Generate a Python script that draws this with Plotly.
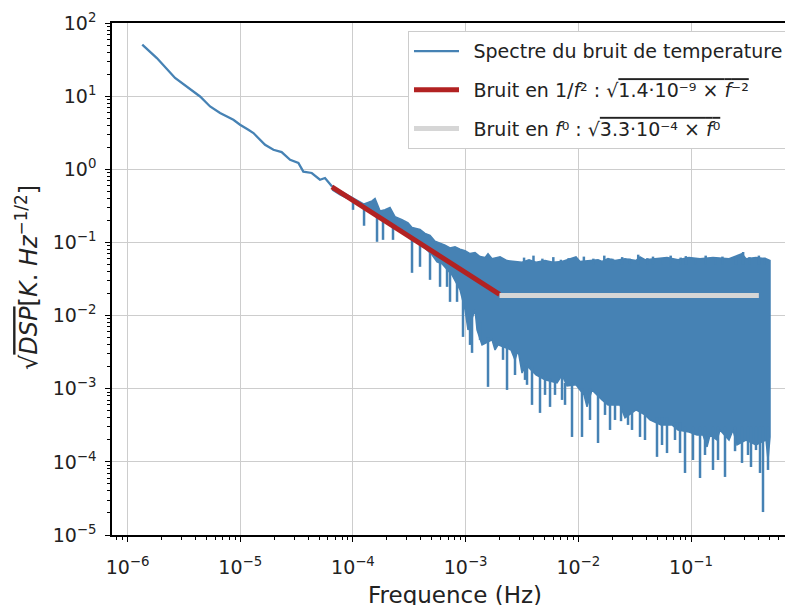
import plotly.graph_objects as go

# ---------------- data ----------------
# smooth low-frequency part of the spectrum (Hz, K/sqrt(Hz))
freq_low = [1.35e-6, 1.82e-6, 2.64e-6, 3.71e-6, 4.40e-6, 5.40e-6, 6.62e-6, 8.69e-6,
            9.96e-6, 1.18e-5, 1.31e-5, 1.66e-5, 1.97e-5, 2.33e-5, 2.77e-5, 3.28e-5,
            3.63e-5, 4.31e-5, 5.10e-5, 5.65e-5, 6.53e-5]
psd_low = [50.5, 33.2, 17.7, 12.2, 9.9, 7.23, 5.87, 4.75,
           4.06, 3.47, 3.13, 2.16, 1.85, 1.72, 1.35, 1.22,
           0.93, 0.89, 0.72, 0.76, 0.58]

# noisy part: upper envelope of the band
band_up_f = [6.53e-5, 7.69e-5, 8.51e-5, 9.42e-5, 1.11e-4, 1.255e-4, 1.478e-4, 1.571e-4,
             1.74e-4, 1.926e-4, 2.133e-4, 2.363e-4, 2.726e-4, 3.083e-4, 3.344e-4, 3.937e-4,
             4.36e-4, 4.831e-4, 5.35e-4, 5.93e-4, 6.566e-4, 7.27e-4, 8.05e-4, 8.92e-4,
             9.88e-4, 1.094e-3, 1.212e-3, 1.342e-3, 1.486e-3, 1.58e-3, 1.715e-3, 2.02e-3,
             2.33e-3, 2.743e-3, 3.166e-3, 3.651e-3, 4.213e-3, 5.064e-3, 5.965e-3, 7.167e-3,
             9.54e-3, 1.035e-2, 1.194e-2, 1.496e-2, 1.623e-2, 1.835e-2, 2.116e-2, 2.596e-2,
             3.251e-2, 3.527e-2, 3.906e-2, 4.991e-2, 6.124e-2, 7.666e-2, 9.6e-2, 0.1202,
             0.1567, 0.2173, 0.2835, 0.3076, 0.3773, 0.4628, 0.5023]
band_up_v = [0.59, 0.51, 0.465, 0.435, 0.37, 0.335, 0.37, 0.40,
             0.27, 0.28, 0.30, 0.225, 0.205, 0.185, 0.16, 0.15,
             0.133, 0.125, 0.104, 0.098, 0.092, 0.084, 0.087, 0.081,
             0.077, 0.0705, 0.0725, 0.064, 0.062, 0.070, 0.060, 0.0635,
             0.0565, 0.055, 0.0535, 0.058, 0.0535, 0.0565, 0.0535, 0.055,
             0.0635, 0.055, 0.0565, 0.058, 0.055, 0.060, 0.0565, 0.060,
             0.0565, 0.0635, 0.058, 0.060, 0.062, 0.058, 0.062, 0.060,
             0.062, 0.060, 0.070, 0.060, 0.062, 0.060, 0.0565]

# noisy part: lower edge of the dense band
band_low_f = [6.53e-5, 7.69e-5, 9.42e-5, 1.065e-4, 1.18e-4, 1.36e-4, 1.478e-4, 1.74e-4,
              2.048e-4, 2.512e-4, 2.898e-4, 3.21e-4, 3.483e-4, 3.779e-4, 4.101e-4, 4.543e-4,
              5.03e-4, 5.573e-4, 6.17e-4, 7.57e-4, 8.92e-4, 9.88e-4, 1.05e-3, 1.212e-3,
              1.262e-3, 1.398e-3, 1.715e-3, 1.824e-3, 1.939e-3, 2.527e-3, 2.743e-3, 2.917e-3,
              3.166e-3, 3.435e-3, 4.213e-3, 5.064e-3, 5.965e-3, 6.47e-3, 7.167e-3, 7.94e-3,
              9.54e-3, 1.035e-2, 1.123e-2, 1.194e-2, 1.323e-2, 1.623e-2, 1.835e-2, 2.344e-2,
              2.596e-2, 3.251e-2, 3.906e-2, 4.326e-2, 5.417e-2, 6.783e-2, 7.666e-2, 9.6e-2,
              0.113, 0.1278, 0.1387, 0.1475, 0.1701, 0.1808, 0.2173, 0.2358,
              0.2559, 0.3076, 0.3773, 0.4628, 0.4821, 0.5023]
band_low_v = [0.524, 0.448, 0.383, 0.348, 0.317, 0.297, 0.279, 0.238,
              0.191, 0.169, 0.140, 0.127, 0.1085, 0.102, 0.0898, 0.0792,
              0.0677, 0.0543, 0.051, 0.036, 0.0225, 0.012, 0.00637, 0.012,
              0.00637, 0.00397, 0.00465, 0.00339, 0.00397, 0.00339, 0.00248, 0.00339,
              0.00164, 0.00212, 0.00154, 0.00132, 0.00124, 0.0012, 0.00154, 0.00109,
              0.00113, 0.000963, 0.000823, 0.000564, 0.000963, 0.000703, 0.000601, 0.000601,
              0.000399, 0.000513, 0.000438, 0.000374, 0.00032, 0.00032, 0.000273, 0.000256,
              0.000233, 0.000233, 0.00016, 0.000233, 0.000199, 0.000273, 0.000199, 0.000273,
              0.00017, 0.000199, 0.00017, 0.000199, 0.000106, 0.000219]

# isolated downward spikes of the spectrum (frequency, band level, spike tip)
spike_f = [1.002e-4, 1.255e-4, 1.636e-4, 1.849e-4, 2.268e-4, 3.344e-4, 3.937e-4, 4.831e-4,
           5.93e-4, 6.84e-4, 7.27e-4, 8.39e-4, 9.48e-4, 1.094e-3, 1.14e-3, 1.342e-3,
           1.58e-3, 2.147e-3, 2.33e-3, 2.743e-3, 3.365e-3, 3.506e-3, 3.882e-3, 4.571e-3,
           5.064e-3, 5.61e-3, 6.21e-3, 7.167e-3, 7.62e-3, 8.79e-3, 1.078e-2, 1.27e-2,
           1.496e-2, 1.725e-2, 1.911e-2, 2.116e-2, 2.393e-2, 2.761e-2, 2.996e-2, 3.527e-2,
           3.906e-2, 4.991e-2, 5.53e-2, 6.124e-2, 7.21e-2, 7.99e-2, 8.846e-2, 0.1041,
           0.1202, 0.1331, 0.1567, 0.1737, 0.2003, 0.2458, 0.2835, 0.3204, 0.3406,
           0.3773, 0.4095, 0.4353, 0.4821]
spike_top = [0.38, 0.32, 0.26, 0.22, 0.18, 0.12, 0.10, 0.075,
             0.055, 0.045, 0.04, 0.03, 0.02, 0.01, 0.01, 0.008,
             0.005, 0.004, 0.004, 0.003, 0.002, 0.002, 0.002, 0.0015,
             0.0015, 0.0014, 0.0013, 0.0015, 0.0012, 0.0012, 0.001, 0.001,
             0.0009, 0.0007, 0.0007, 0.0007, 0.0006, 0.0005, 0.0005, 0.0005,
             0.0005, 0.0004, 0.0004, 0.0004, 0.00035, 0.00035, 0.0003, 0.0003,
             0.0003, 0.0003, 0.0003, 0.0003, 0.0003, 0.0003, 0.0003, 0.0003, 0.0003,
             0.0003, 0.0003, 0.0003, 0.0003]
spike_tip = [0.279, 0.169, 0.102, 0.1085, 0.1085, 0.0384, 0.0464, 0.0308,
             0.0247, 0.0247, 0.0154, 0.0154, 0.00511, 0.00397, 0.00309, 0.00465,
             0.00106, 0.00248, 0.000963, 0.00154, 0.00132, 0.00113, 0.000601, 0.000467,
             0.000823, 0.000564, 0.000823, 0.000703, 0.000601, 0.000219, 0.000219, 0.000374,
             0.000181, 0.000438, 0.000273, 0.000374, 0.00036, 0.00032, 0.000273, 0.000219,
             0.000199, 0.000117, 0.00017, 0.000132, 0.000199, 0.000132, 7.05e-5, 0.000106,
             6.02e-5, 0.000124, 7.75e-5, 0.000106, 6.22e-5, 0.00014, 9.66e-5, 0.000124, 8.51e-5,
             0.000145, 7.05e-5, 2.06e-5, 7.75e-5]

# short upward hairs on the top of the noise floor
hair_f = [3.3e-3, 4.0e-3, 4.8e-3, 6.0e-3, 7.0e-3, 8.2e-3, 1.12e-2, 1.36e-2, 1.7e-2, 2.0e-2,
          2.45e-2, 2.85e-2, 3.4e-2, 4.1e-2, 4.6e-2, 5.6e-2, 6.6e-2, 8.1e-2, 9.0e-2, 0.11,
          0.135, 0.165, 0.19, 0.25, 0.29, 0.33, 0.40, 0.45]
hair_base = [0.05, 0.05, 0.05, 0.05, 0.05, 0.05, 0.05, 0.05, 0.05, 0.05,
             0.05, 0.05, 0.05, 0.05, 0.05, 0.05, 0.05, 0.05, 0.05, 0.05,
             0.05, 0.05, 0.05, 0.05, 0.05, 0.05, 0.05, 0.05]
hair_tip = [0.062, 0.066, 0.060, 0.063, 0.058, 0.061, 0.064, 0.060, 0.066, 0.060,
            0.063, 0.060, 0.068, 0.061, 0.064, 0.060, 0.066, 0.062, 0.065, 0.060,
            0.066, 0.062, 0.064, 0.062, 0.074, 0.063, 0.066, 0.062]

# fitted noise models
fit_red_f = [6.5e-5, 2.0e-3]
fit_red_v = [0.575, 0.0195]
fit_flat_f = [2.0e-3, 0.40]
fit_flat_v = [0.0188, 0.0188]

x_tickvals = [1e-6, 1e-5, 1e-4, 1e-3, 1e-2, 1e-1]
x_ticktext = ["10<sup>−6</sup>", "10<sup>−5</sup>", "10<sup>−4</sup>", "10<sup>−3</sup>",
              "10<sup>−2</sup>", "10<sup>−1</sup>"]
y_tickvals = [1e-5, 1e-4, 1e-3, 1e-2, 1e-1, 1e0, 1e1, 1e2]
y_ticktext = ["10<sup>−5</sup>", "10<sup>−4</sup>", "10<sup>−3</sup>", "10<sup>−2</sup>",
              "10<sup>−1</sup>", "10<sup>0</sup>", "10<sup>1</sup>", "10<sup>2</sup>"]

# ---------------- figure ----------------
BLUE = "#4682B4"
FONT = "DejaVu Sans"
TXT = "#222222"
GAP = "\u2002"

fig = go.Figure()

poly_f = band_up_f + band_low_f[::-1]
poly_v = band_up_v + band_low_v[::-1]
fig.add_trace(go.Scatter(x=poly_f, y=poly_v, mode="lines", fill="toself",
                         fillcolor=BLUE, line=dict(color=BLUE, width=1.5),
                         showlegend=False, hoverinfo="skip"))

sx, sy = [], []
for f, t, b in zip(spike_f, spike_top, spike_tip):
    sx += [f, f, None]
    sy += [t, b, None]
for f, t, b in zip(hair_f, hair_base, hair_tip):
    sx += [f, f, None]
    sy += [t, b, None]
fig.add_trace(go.Scatter(x=sx, y=sy, mode="lines", line=dict(color=BLUE, width=2.5),
                         showlegend=False, hoverinfo="skip"))

fig.add_trace(go.Scatter(x=freq_low, y=psd_low, mode="lines",
                         line=dict(color=BLUE, width=2.3),
                         name=GAP + "Spectre du bruit de temperature", legendgroup="a"))

fig.add_trace(go.Scatter(x=fit_red_f, y=fit_red_v, mode="lines",
                         line=dict(color="#B22222", width=5),
                         name=GAP + "Bruit en 1/<i>f</i>² : √<span style='text-decoration:overline'>1.4·10⁻⁹ × <i>f</i>⁻²</span>",
                         legendgroup="b"))

fig.add_trace(go.Scatter(x=fit_flat_f, y=fit_flat_v, mode="lines",
                         line=dict(color="#D6D6D6", width=5),
                         name=GAP + "Bruit en <i>f</i>⁰ : √<span style='text-decoration:overline'>3.3·10⁻⁴ × <i>f</i>⁰</span>",
                         legendgroup="c"))

minor_x = [m * 10 ** e for e in range(-7, 0) for m in range(2, 10)]
minor_y = [m * 10 ** e for e in range(-6, 2) for m in range(2, 10)]

axis_common = dict(
    showgrid=True, gridcolor="#CDCDCD", gridwidth=1.3,
    showline=True, linecolor="black", linewidth=1.5,
    ticks="outside", ticklen=5, tickwidth=1.3, tickcolor="black",
    tickfont=dict(family=FONT, size=19, color=TXT),
    zeroline=False, tickmode="array", automargin=False,
)

fig.update_xaxes(type="log", range=[-6.138, -0.024], mirror=True,
                 tickvals=x_tickvals, ticktext=x_ticktext, ticklabelstandoff=9,
                 minor=dict(tickmode="array", tickvals=minor_x, ticks="outside",
                            ticklen=3, tickwidth=1, tickcolor="black", showgrid=False),
                 **axis_common)
fig.update_yaxes(type="log", range=[-5, 2],
                 tickvals=y_tickvals, ticktext=y_ticktext, ticklabelstandoff=5,
                 minor=dict(tickmode="array", tickvals=minor_y, ticks="outside",
                            ticklen=3, tickwidth=1, tickcolor="black", showgrid=False),
                 **axis_common)

fig.add_annotation(
    text="Frequence (Hz)", xref="paper", yref="paper", x=0.498, y=-0.088,
    xanchor="center", yanchor="top", showarrow=False,
    font=dict(family=FONT, size=23, color=TXT))

fig.add_annotation(
    text="√<span style='text-decoration:overline'><i>DSP</i></span>[<i>K</i>. <i>Hz</i><sup>−1/2</sup>]",
    xref="paper", yref="paper", x=-0.1234, y=0.504, textangle=-90,
    showarrow=False, font=dict(family=FONT, size=24, color=TXT),
    xanchor="center", yanchor="middle")

fig.update_layout(
    width=793, height=605,
    margin=dict(l=104, r=0, t=15, b=78),
    paper_bgcolor="white", plot_bgcolor="white",
    font=dict(family=FONT, color=TXT),
    legend=dict(x=0.4296, y=0.984, xanchor="left", yanchor="top",
                bgcolor="white", bordercolor="#CCCCCC", borderwidth=1,
                font=dict(family=FONT, size=19, color=TXT),
                itemwidth=45, tracegroupgap=11, traceorder="grouped"),
)

fig.write_html("out.html")
